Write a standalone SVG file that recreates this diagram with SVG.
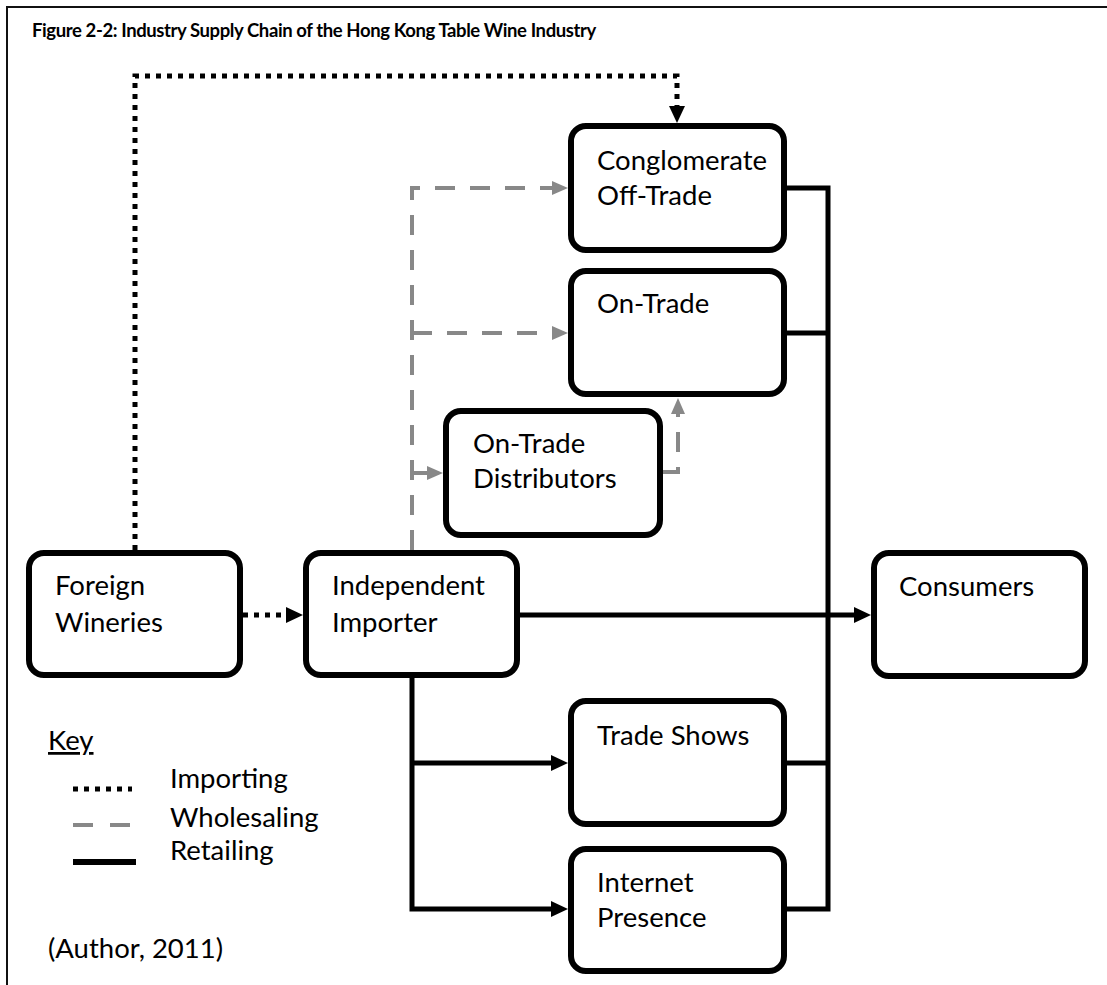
<svg xmlns="http://www.w3.org/2000/svg" width="1107" height="985" viewBox="0 0 1107 985">
<style>
.box{fill:#fff;stroke:#000;stroke-width:6}
.lbl{font-family:Lato,"Open Sans",sans-serif;font-size:27.5px;fill:#000}
.title{font-family:Lato,"Open Sans",sans-serif;font-size:18.5px;letter-spacing:-0.4px;font-weight:bold;fill:#000}
.imp{fill:none;stroke:#000;stroke-width:5;stroke-dasharray:5 6}
.whl{fill:none;stroke:#888;stroke-width:4;stroke-dasharray:20 15}
.ret{fill:none;stroke:#000;stroke-width:5}
</style>
<defs>
<marker id="ah" markerUnits="userSpaceOnUse" markerWidth="17" markerHeight="16" refX="0" refY="8" orient="auto">
<path d="M0,0 L17,8 L0,16 z" fill="#000"/>
</marker>
<marker id="ahg" markerUnits="userSpaceOnUse" markerWidth="16" markerHeight="14" refX="0" refY="7" orient="auto">
<path d="M0,0 L16,7 L0,14 z" fill="#888"/>
</marker>
</defs>
<rect width="1107" height="985" fill="#fff"/>
<path d="M7,985 V7 H1107" fill="none" stroke="#111" stroke-width="2"/>
<text class="title" x="32" y="37">Figure 2-2: Industry Supply Chain of the Hong Kong Table Wine Industry</text>

<g id="connectors">
<path class="imp" d="M135,550 V76 H677 V106" marker-end="url(#ah)"/>
<path class="imp" d="M243,615 H286" marker-end="url(#ah)"/>
<path class="whl" d="M412,550 V188 H552" marker-end="url(#ahg)"/>
<path class="whl" d="M412,333 H552" marker-end="url(#ahg)"/>
<path class="whl" d="M412,473 H427" marker-end="url(#ahg)"/>
<path class="whl" d="M663,472 H678 V414" marker-end="url(#ahg)"/>
<path class="ret" d="M520,615 H854" marker-end="url(#ah)"/>
<path class="ret" d="M412,678 V909 H551" marker-end="url(#ah)"/>
<path class="ret" d="M412,763 H551" marker-end="url(#ah)"/>
<path class="ret" d="M787,188 H828 V909 H787"/>
<path class="ret" d="M787,333 H828"/>
<path class="ret" d="M787,763 H828"/>
</g>

<g id="foreign-wineries">
<rect class="box" x="29" y="553" width="211" height="122" rx="15"/>
<text class="lbl" x="55" y="595">Foreign</text>
<text class="lbl" x="55" y="632">Wineries</text>
</g>
<g id="independent-importer">
<rect class="box" x="306" y="553" width="211" height="122" rx="15"/>
<text class="lbl" x="332" y="595">Independent</text>
<text class="lbl" x="332" y="632">Importer</text>
</g>
<g id="conglomerate-off-trade">
<rect class="box" x="571" y="126" width="213" height="124" rx="15"/>
<text class="lbl" x="597" y="170">Conglomerate</text>
<text class="lbl" x="597" y="205">Off-Trade</text>
</g>
<g id="on-trade">
<rect class="box" x="571" y="271" width="213" height="123" rx="15"/>
<text class="lbl" x="597" y="313">On-Trade</text>
</g>
<g id="on-trade-distributors">
<rect class="box" x="446" y="411" width="214" height="124" rx="15"/>
<text class="lbl" x="473" y="453">On-Trade</text>
<text class="lbl" x="473" y="488">Distributors</text>
</g>
<g id="consumers">
<rect class="box" x="874" y="553" width="211" height="123" rx="15"/>
<text class="lbl" x="899" y="596">Consumers</text>
</g>
<g id="trade-shows">
<rect class="box" x="571" y="701" width="213" height="123" rx="15"/>
<text class="lbl" x="597" y="745">Trade Shows</text>
</g>
<g id="internet-presence">
<rect class="box" x="571" y="849" width="213" height="122" rx="15"/>
<text class="lbl" x="597" y="892">Internet</text>
<text class="lbl" x="597" y="927">Presence</text>
</g>

<g id="key">
<text class="lbl" x="48" y="750" text-decoration="underline">Key</text>
<line class="imp" x1="73" y1="789" x2="132" y2="789"/>
<line x1="73" y1="825" x2="131" y2="825" stroke="#888" stroke-width="4" stroke-dasharray="20 17"/>
<line x1="73" y1="862" x2="136" y2="862" stroke="#000" stroke-width="6"/>
<text class="lbl" x="170" y="788">Importing</text>
<text class="lbl" x="170" y="827">Wholesaling</text>
<text class="lbl" x="170" y="860">Retailing</text>
</g>
<text class="lbl" x="48" y="958">(Author, 2011)</text>
</svg>
